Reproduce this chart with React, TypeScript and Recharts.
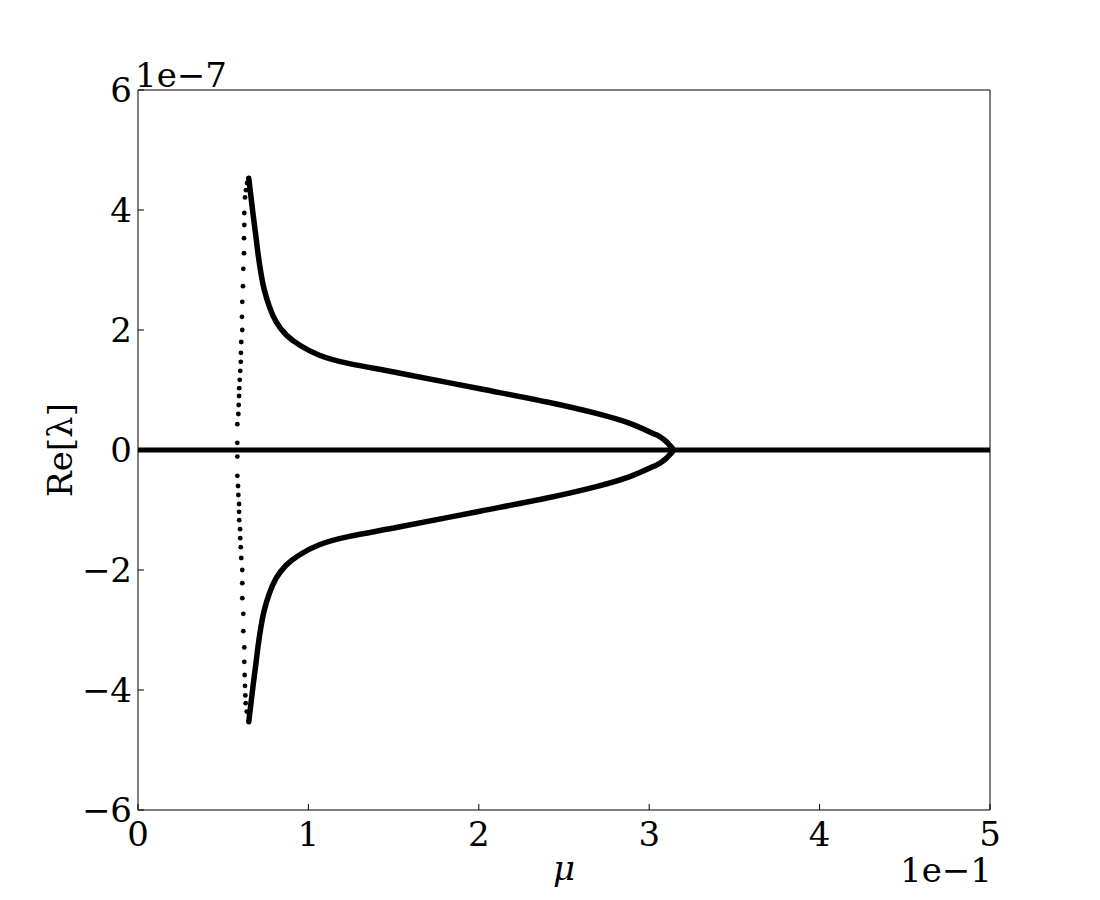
import { ComposedChart, Line, Scatter, XAxis, YAxis } from 'recharts'

// mu in units of 1e-1, Re[lambda] in units of 1e-7
const muTicks = [0, 1, 2, 3, 4, 5]
const reTicks = [-6, -4, -2, 0, 2, 4, 6]

// the flat branch along Re = 0
const flatMu = [0, 5]
const flatRe = [0, 0]

// dense branch: peak -> nose -> trough
const upperMu = [0.650, 0.663, 0.677, 0.692, 0.704, 0.722, 0.741, 0.771, 0.810, 0.869, 0.947, 1.064, 1.240, 1.538, 2.007, 2.40, 2.69, 2.89, 3.02, 3.063, 3.10, 3.12, 3.14]
const upperRe = [4.53, 4.22, 3.89, 3.56, 3.28, 2.94, 2.67, 2.39, 2.14, 1.92, 1.75, 1.58, 1.44, 1.28, 1.02, 0.80, 0.61, 0.44, 0.28, 0.22, 0.14, 0.08, 0]
const lowerMu = [3.12, 3.10, 3.063, 3.02, 2.89, 2.69, 2.40, 2.007, 1.538, 1.240, 1.064, 0.947, 0.869, 0.810, 0.771, 0.741, 0.722, 0.704, 0.692, 0.677, 0.663, 0.650]
const lowerRe = [-0.08, -0.14, -0.22, -0.28, -0.44, -0.61, -0.80, -1.02, -1.28, -1.44, -1.58, -1.75, -1.92, -2.14, -2.39, -2.67, -2.94, -3.28, -3.56, -3.89, -4.22, -4.53]

// sparse dotted branch on the left
const dotMu = [0.640, 0.634, 0.628, 0.624, 0.624, 0.622, 0.622, 0.618, 0.616, 0.612, 0.610, 0.612, 0.606, 0.604, 0.603, 0.600, 0.597, 0.594, 0.593, 0.591, 0.589, 0.583, 0.583, 0.583, 0.583, 0.587, 0.589, 0.593, 0.593, 0.594, 0.599, 0.600, 0.603, 0.606, 0.612, 0.612, 0.612, 0.618, 0.618, 0.624, 0.624, 0.626, 0.628, 0.630, 0.632, 0.638]
const dotRe = [4.45, 4.33, 4.21, 3.95, 3.75, 3.53, 3.28, 3.02, 2.73, 2.47, 2.22, 2.00, 1.80, 1.62, 1.47, 1.32, 1.17, 1.03, 0.90, 0.75, 0.60, 0.43, 0.12, -0.11, -0.43, -0.60, -0.75, -0.90, -1.03, -1.17, -1.32, -1.47, -1.62, -1.80, -2.00, -2.22, -2.47, -2.73, -3.02, -3.29, -3.53, -3.75, -3.93, -4.09, -4.22, -4.36]

const toRows = (mu: number[], re: number[]) => mu.map((m, i) => ({ mu: m, re: re[i] }))

const flatRows = toRows(flatMu, flatRe)
const denseRows = toRows([...upperMu, ...lowerMu], [...upperRe, ...lowerRe])
const dotRows = toRows(dotMu, dotRe)

const FONT = '"DejaVu Serif", serif'
const SIZE = 34
const tickStyle = { fill: '#000', fontSize: SIZE, fontFamily: FONT }
const fmt = (v: number) => (v < 0 ? `\u2212${-v}` : `${v}`)

const Dot = (props: any) => <circle cx={props.cx} cy={props.cy} r={2.4} fill="#000" />

export default function App() {
  return (
    <div style={{ position: 'absolute', left: 0, top: 0, width: 1100, height: 900, background: '#fff' }}>
      <ComposedChart width={1100} height={900} margin={{ top: 89, right: 109, bottom: 0, left: 0 }}>
        <XAxis
          dataKey="mu"
          type="number"
          domain={[0, 5]}
          ticks={muTicks}
          interval={0}
          height={90}
          tickSize={-6}
          tickMargin={18}
          tickFormatter={fmt}
          tick={tickStyle}
          axisLine={{ stroke: '#000' }}
          tickLine={{ stroke: '#000' }}
          label={{ value: '\u03bc', position: 'insideBottom', offset: 20, fill: '#000', fontSize: SIZE, fontFamily: FONT, fontStyle: 'italic' }}
        />
        <XAxis
          xAxisId="top"
          orientation="top"
          dataKey="mu"
          type="number"
          domain={[0, 5]}
          ticks={muTicks}
          interval={0}
          height={1}
          tickSize={-6}
          tick={false}
          axisLine={{ stroke: '#000' }}
          tickLine={{ stroke: '#000' }}
        />
        <YAxis
          dataKey="re"
          type="number"
          domain={[-6, 6]}
          ticks={reTicks}
          interval={0}
          width={138}
          tickSize={-6}
          tickMargin={12}
          tickFormatter={fmt}
          tick={tickStyle}
          axisLine={{ stroke: '#000' }}
          tickLine={{ stroke: '#000' }}
          label={{ value: 'Re[\u03bb]', angle: -90, position: 'insideLeft', offset: 60, textAnchor: 'middle', fill: '#000', fontSize: SIZE, fontFamily: FONT }}
        />
        <YAxis
          yAxisId="right"
          orientation="right"
          dataKey="re"
          type="number"
          domain={[-6, 6]}
          ticks={reTicks}
          interval={0}
          width={1}
          tickSize={-6}
          tick={false}
          axisLine={{ stroke: '#000' }}
          tickLine={{ stroke: '#000' }}
        />
        <Line data={flatRows} dataKey="re" type="linear" stroke="#000" strokeWidth={5} dot={false} isAnimationActive={false} />
        <Line data={denseRows} dataKey="re" type="natural" stroke="#000" strokeWidth={5.5} strokeLinecap="round" dot={false} isAnimationActive={false} />
        <Scatter data={dotRows} dataKey="re" fill="#000" shape={Dot} isAnimationActive={false} />
      </ComposedChart>
      <div style={{ position: 'absolute', left: 135, top: 58, fontSize: SIZE, lineHeight: `${SIZE}px`, fontFamily: FONT, whiteSpace: 'nowrap' }}>
        1e{'\u2212'}7
      </div>
      <div style={{ position: 'absolute', left: 900, top: 853, fontSize: SIZE, lineHeight: `${SIZE}px`, fontFamily: FONT, whiteSpace: 'nowrap' }}>
        1e{'\u2212'}1
      </div>
    </div>
  )
}
